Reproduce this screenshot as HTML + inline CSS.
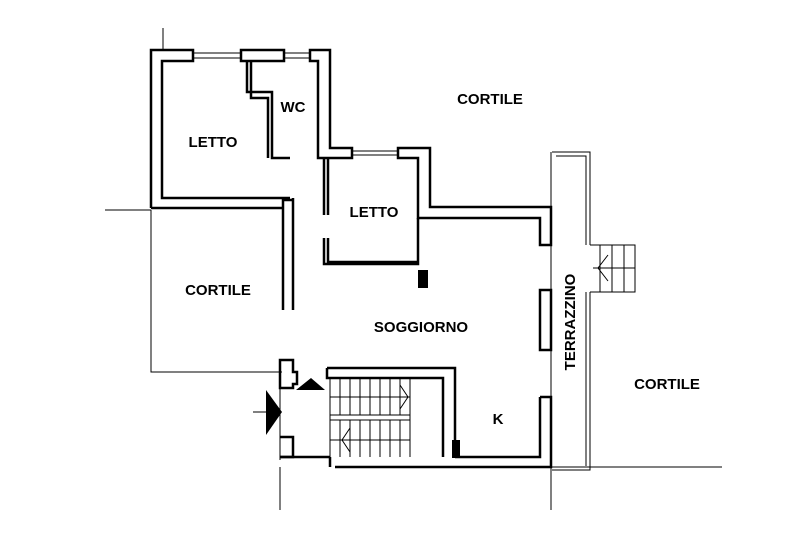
<!DOCTYPE html>
<html><head><meta charset="utf-8"><style>
html,body{margin:0;padding:0;background:#fff;}
svg{display:block}
text{font-family:"Liberation Sans",Arial,sans-serif;font-weight:bold;font-size:15px;fill:#000}
</style></head><body>
<svg width="800" height="533" viewBox="0 0 800 533" xmlns="http://www.w3.org/2000/svg">
<g fill="none" stroke="#000" stroke-width="2.5">
<path d="M151,208 V50 H193 V61 H162 V198 H290"/>
<path d="M151,208 H283"/>
<path d="M241,50 H284 V61 H241 Z"/>
<path d="M310,50 H330 V148 H352 V158 H318 V61 H310 Z"/>
<path d="M398,148 H430 V207 H551 V245 H540 V218 H418 V158 H398 Z"/>
<path d="M247,62 V92 H272 V158 H290"/>
<path d="M251,62 V98 H268 V158"/>
<path d="M283,198 V310 M293,198 V310"/>
<path d="M283,200 H293"/>
<path d="M324,158 V215 M328,158 V215"/>
<path d="M324,238 V264 H418 V218"/>
<path d="M328,238 V262 H418"/>
<path d="M540,290 H551 V350 H540 Z"/>
<path d="M540,397 H551 V467 H335"/>
<path d="M540,397 V457 H455"/>
<path d="M327,368 H455 V457 M327,368 V378 H443 V457"/>
<path d="M330,457 V467 M280,457 H330"/>
<path d="M280,360 H293 V372 H297 V384 H293 V388 H280 Z"/>
<path d="M280,437 H293 V457 H280"/>
</g>
<g fill="none" stroke="#000" stroke-width="1">
<path d="M193,53 H241 M193,58 H241 M284,53 H310 M284,58 H310 M352,151 H398 M352,155 H398"/>
<path d="M151,210 V372 H282"/>
<path d="M105,210 H151 M163,28 V50 M280,467 V510 M280,380 V460 M551,467 H722 M551,152 V510"/>
<path d="M552,152 H590 V245 M556,156 H586 V245 M590,292 V470 H552 M586,292 V466"/>
<path d="M590,245 H635 V292 H590 M600,245 V292 M612,245 V292 M624,245 V292 M593,268 H635 M608,255 L598,268 L608,281"/>
<path d="M330,378 V457 M410,378 V457 M330,420 H410 M330,415 H410"/>
<path d="M340,378 V415 M350,378 V415 M360,378 V415 M370,378 V415 M380,378 V415 M390,378 V415 M400,378 V415 M330,397 H410 M400,385 L408,397 L400,409"/>
<path d="M340,420 V457 M350,420 V457 M360,420 V457 M370,420 V457 M380,420 V457 M390,420 V457 M400,420 V457 M330,440 H410 M350,428 L342,440 L350,452"/>
<path d="M253,412 H268"/>
</g>
<rect x="418" y="270" width="10" height="18" fill="#000"/>
<rect x="452" y="440" width="8" height="18" fill="#000"/>
<polygon points="266,390 282,412 266,435" fill="#000"/>
<polygon points="296,390 311,378 325,390" fill="#000"/>
<text x="490" y="104" text-anchor="middle">CORTILE</text>
<text x="213" y="147" text-anchor="middle">LETTO</text>
<text x="293" y="112" text-anchor="middle">WC</text>
<text x="374" y="217" text-anchor="middle">LETTO</text>
<text x="218" y="295" text-anchor="middle">CORTILE</text>
<text x="421" y="332" text-anchor="middle">SOGGIORNO</text>
<text x="498" y="424" text-anchor="middle">K</text>
<text x="667" y="389" text-anchor="middle">CORTILE</text>
<text transform="translate(575,322) rotate(-90)" text-anchor="middle">TERRAZZINO</text>
</svg>
</body></html>
